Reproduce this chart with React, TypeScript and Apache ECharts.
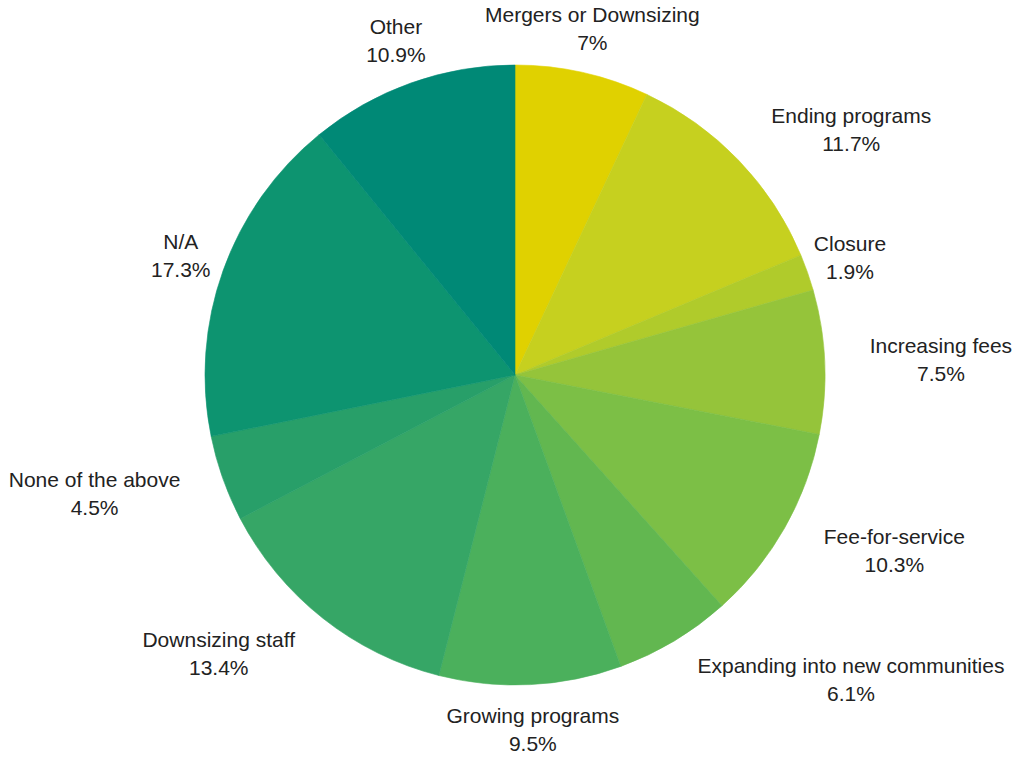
import React, { useEffect, useRef } from "react";
import * as echarts from "echarts";

const categories = [
  "Mergers or Downsizing",
  "Ending programs",
  "Closure",
  "Increasing fees",
  "Fee-for-service",
  "Expanding into new communities",
  "Growing programs",
  "Downsizing staff",
  "None of the above",
  "N/A",
  "Other",
];
const values = [7, 11.7, 1.9, 7.5, 10.3, 6.1, 9.5, 13.4, 4.5, 17.3, 10.9];
const colors = [
  "#e0d100",
  "#c6d01f",
  "#b0cb2b",
  "#95c43a",
  "#7cbf46",
  "#62b750",
  "#4bb05c",
  "#36a666",
  "#289f69",
  "#0d9470",
  "#008976",
];

const CX = 515;
const CY = 375;
const R = 310;
const LABEL_R = 355;

export default function App() {
  const ref = useRef<HTMLDivElement>(null);
  useEffect(() => {
    if (!ref.current) return;
    const chart = echarts.init(ref.current, null, { renderer: "svg" });
    const total = values.reduce((a, b) => a + b, 0);
    const mids: number[] = [];
    let acc = 0;
    values.forEach((v) => {
      mids.push(((acc + v / 2) / total) * Math.PI * 2);
      acc += v;
    });
    chart.setOption({
      animation: false,
      backgroundColor: "#ffffff",
      series: [
        {
          type: "pie",
          center: [CX, CY],
          radius: [0, R],
          startAngle: 90,
          clockwise: true,
          avoidLabelOverlap: false,
          data: categories.map((name, i) => ({
            name,
            value: values[i],
            itemStyle: { color: colors[i], borderColor: colors[i], borderWidth: 0.6 },
          })),
          label: {
            show: true,
            position: "outside",
            formatter: "{b}\n{c}%",
            fontFamily: "Liberation Sans, Arial, sans-serif",
            fontSize: 21,
            lineHeight: 28,
            color: "#222222",
            align: "center",
          },
          labelLine: { show: false },
          emphasis: { disabled: true },
          labelLayout: (params: any) => {
            const a = mids[params.dataIndex];
            const dx = Math.sin(a);
            const dy = -Math.cos(a);
            const ax = CX + dx * LABEL_R;
            const ay = CY + dy * LABEL_R;
            const w = params.labelRect.width;
            const h = params.labelRect.height;
            const x0 = ax - w / 2;
            const x1 = ax + w / 2;
            const y0 = ay - h / 2;
            const y1 = ay + h / 2;
            const nx = Math.max(x0, Math.min(CX, x1));
            const ny = Math.max(y0, Math.min(CY, y1));
            const dist = Math.hypot(nx - CX, ny - CY);
            const x = dist >= R ? ax : ax + (dx >= 0 ? w / 2 : -w / 2);
            return { x, y: ay, align: "center", verticalAlign: "middle" };
          },
        },
      ],
    });
    return () => chart.dispose();
  }, []);
  return (
    <div
      ref={ref}
      style={{ position: "absolute", left: 0, top: 0, width: 1018, height: 757 }}
    />
  );
}
